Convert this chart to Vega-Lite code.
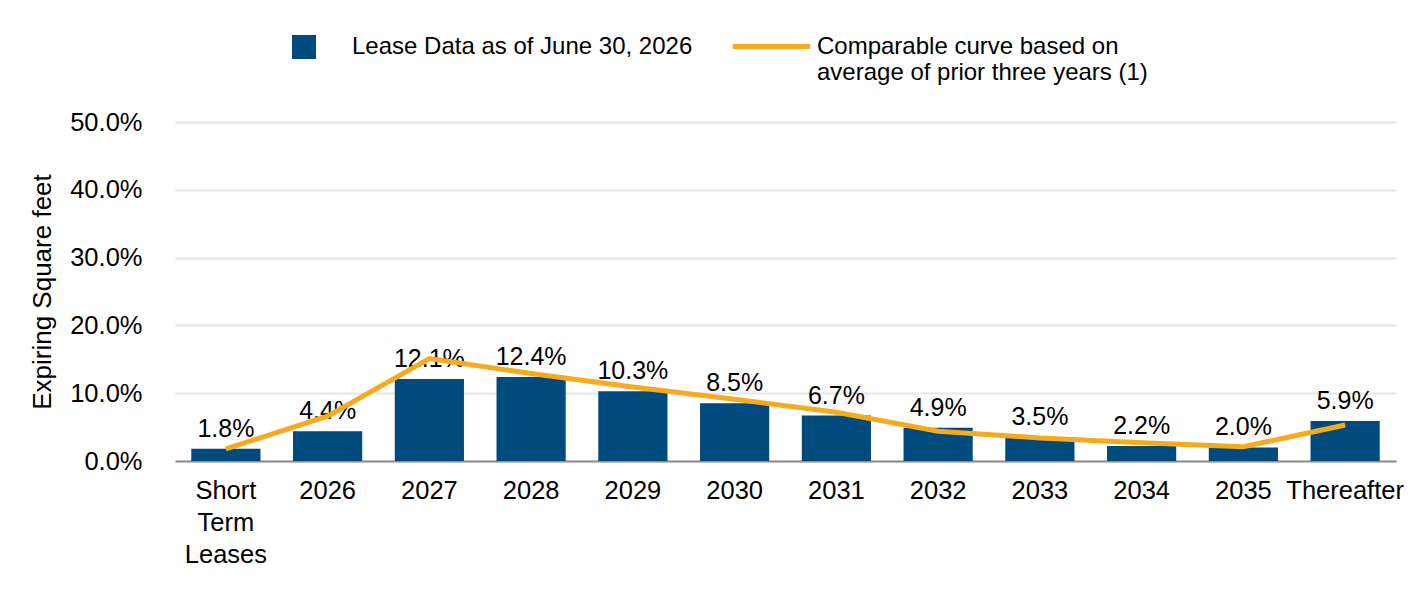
{
  "$schema": "https://vega.github.io/schema/vega-lite/v6.json",
  "width": 1221,
  "height": 339,
  "autosize": {"type": "none"},
  "padding": {"left": 175, "top": 122, "right": 20, "bottom": 131},
  "background": "white",
  "config": {
    "view": {"stroke": null},
    "font": "Liberation Sans"
  },
  "data": {
    "values": [
      {"period": "Short Term Leases", "lease": 1.8, "curve": 1.8},
      {"period": "2026", "lease": 4.4, "curve": 6.6},
      {"period": "2027", "lease": 12.1, "curve": 15.1},
      {"period": "2028", "lease": 12.4, "curve": 12.9},
      {"period": "2029", "lease": 10.3, "curve": 10.9},
      {"period": "2030", "lease": 8.5, "curve": 9.1},
      {"period": "2031", "lease": 6.7, "curve": 7.2},
      {"period": "2032", "lease": 4.9, "curve": 4.4},
      {"period": "2033", "lease": 3.5, "curve": 3.4},
      {"period": "2034", "lease": 2.2, "curve": 2.7},
      {"period": "2035", "lease": 2.0, "curve": 2.1},
      {"period": "Thereafter", "lease": 5.9, "curve": 5.3}
    ]
  },
  "encoding": {
    "x": {
      "field": "period",
      "type": "nominal",
      "sort": null,
      "scale": {"paddingInner": 0.32, "paddingOuter": 0.16},
      "axis": {
        "title": null,
        "labelAngle": 0,
        "labelFontSize": 25.5,
        "labelColor": "#000000",
        "labelPadding": 17,
        "ticks": false,
        "domainColor": "#8c8c8c",
        "domainWidth": 2,
        "labelLineHeight": 32,
        "labelExpr": "datum.value == 'Short Term Leases' ? ['Short', 'Term', 'Leases'] : datum.value"
      }
    }
  },
  "layer": [
    {
      "mark": {"type": "bar"},
      "encoding": {
        "y": {
          "field": "lease",
          "type": "quantitative",
          "scale": {"domain": [0, 50]},
          "axis": {
            "title": "Expiring Square feet",
            "titleFontSize": 26,
            "titleFontWeight": "normal",
            "titleColor": "#000000",
            "titlePadding": 14,
            "values": [0, 10, 20, 30, 40, 50],
            "labelExpr": "format(datum.value, '.1f') + '%'",
            "labelFontSize": 25.5,
            "labelColor": "#000000",
            "labelPadding": 33,
            "ticks": false,
            "domain": false,
            "gridColor": "#e6e6e6",
            "gridWidth": 2
          }
        },
        "color": {
          "field": "barSeries",
          "type": "nominal",
          "scale": {"range": ["#014a7e"]},
          "legend": {
            "orient": "none",
            "legendX": 117,
            "legendY": -87,
            "title": null,
            "padding": 0,
            "symbolType": "square",
            "symbolSize": 576,
            "symbolStrokeWidth": 0,
            "labelFontSize": 24,
            "labelColor": "#000000",
            "labelOffset": 36,
            "labelLimit": 500
          }
        }
      },
      "transform": [{"calculate": "'Lease Data as of June 30, 2026'", "as": "barSeries"}]
    },
    {
      "mark": {"type": "text", "fontSize": 25, "color": "#000000", "baseline": "alphabetic", "dy": -12},
      "encoding": {
        "y": {"field": "lease", "type": "quantitative"},
        "text": {"field": "label", "type": "nominal"}
      },
      "transform": [{"calculate": "format(datum.lease, '.1f') + '%'", "as": "label"}]
    },
    {
      "mark": {"type": "line", "strokeWidth": 5},
      "encoding": {
        "y": {"field": "curve", "type": "quantitative"},
        "stroke": {
          "field": "lineSeries",
          "type": "nominal",
          "scale": {"range": ["#f6ab1f"]},
          "legend": {
            "orient": "none",
            "legendX": 555,
            "legendY": -117,
            "title": null,
            "padding": 0,
            "symbolType": "stroke",
            "symbolSize": 6000,
            "symbolStrokeWidth": 5,
            "labelFontSize": 24,
            "labelColor": "#000000",
            "labelOffset": 4,
            "labelLimit": 500,
            "labelExpr": "['Comparable curve based on', 'average of prior three years (1)']"
          }
        }
      },
      "transform": [{"calculate": "'Comparable curve'", "as": "lineSeries"}]
    }
  ]
}
